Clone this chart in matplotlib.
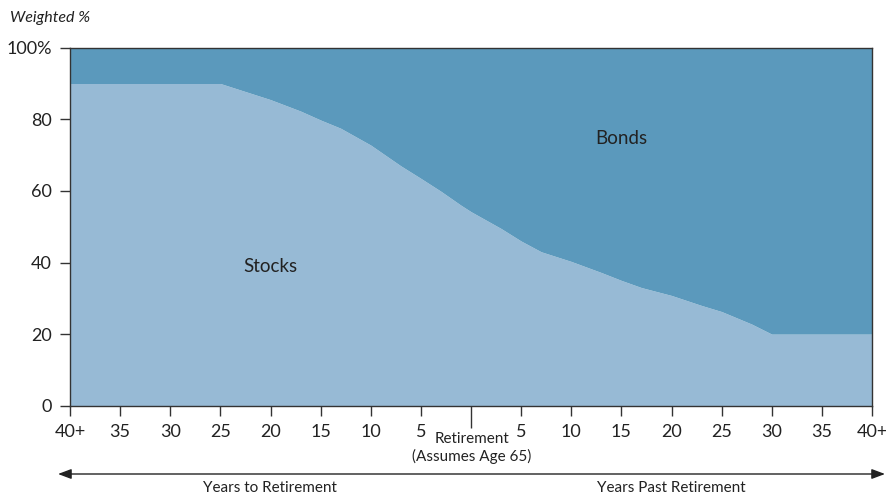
import numpy as np
import matplotlib
matplotlib.use("Agg")
import matplotlib.pyplot as plt

# glide path: years relative to retirement (negative = before), stock weight in %
years = [-40, -25, -22, -20, -17, -15, -13, -10, -7, -5, -3, -1, 0, 3, 5, 7, 10,
         13, 15, 17, 20, 23, 25, 28, 30, 40]
stocks = [90, 90, 87.3, 85.5, 82.3, 79.8, 77.5, 72.8, 67, 63.5, 59.9, 56, 54.2,
          49.5, 46, 43, 40.3, 37.2, 35, 33, 30.8, 28, 26.3, 22.8, 20, 20]
bonds_top = [100] * len(years)

xticks = list(range(-40, 41, 5))
xlabels = ["40+", "35", "30", "25", "20", "15", "10", "5", "",
           "5", "10", "15", "20", "25", "30", "35", "40+"]
yticks = [0, 20, 40, 60, 80, 100]
ylabels = ["0", "20", "40", "60", "80", "100%"]

C_STOCK = "#97BAD5"
C_BOND = "#5B99BC"
C_TXT = "#222222"
C_AX = "#333333"

plt.rcParams.update({"font.family": ["Lato", "DejaVu Sans"], "font.size": 12})

fig = plt.figure(figsize=(8.86, 4.95), dpi=100)
ax = fig.add_axes([70 / 886, 1 - 405.7 / 495, 802 / 886, 358 / 495])

ax.fill_between(years, 0, stocks, color=C_STOCK, lw=0)
ax.fill_between(years, stocks, bonds_top, color=C_BOND, lw=0)
ax.set_xlim(-40, 40)
ax.set_ylim(0, 100)

for s in ax.spines.values():
    s.set_color(C_AX)
    s.set_linewidth(1.0)

ax.set_yticks(yticks)
ax.set_yticklabels(ylabels, color=C_TXT, fontsize=13)
ax.set_xticks(xticks)
ax.set_xticklabels(xlabels, color=C_TXT, fontsize=13)
ax.tick_params(axis="both", length=7, width=1, color=C_AX, pad=6)
# retirement tick is longer than the rest
ax.xaxis.get_major_ticks()[8].tick1line.set_markersize(16)

ax.text(-20, 39, "Stocks", fontsize=13.5, color=C_TXT, ha="center", va="center")
ax.text(15, 74.7, "Bonds", fontsize=13.5, color=C_TXT, ha="center", va="center")

fig.text(10 / 886, 1 - 18 / 495, "Weighted %", style="italic", fontsize=11.5,
         color=C_TXT, ha="left", va="center")
fig.text(472 / 886, 1 - 448 / 495, "Retirement\n(Assumes Age 65)", fontsize=11,
         color=C_TXT, ha="center", va="center", linespacing=1.3)

# direction arrow under the axis
ya = 1 - 474 / 495
fig.add_artist(matplotlib.patches.FancyArrowPatch(
    (58 / 886, ya), (885 / 886, ya), transform=fig.transFigure,
    arrowstyle="<|-|>,head_length=8,head_width=3", color=C_TXT, lw=1.0,
    shrinkA=0, shrinkB=0))
fig.text(270 / 886, 1 - 488 / 495, "Years to Retirement", fontsize=11,
         color=C_TXT, ha="center", va="center")
fig.text(671 / 886, 1 - 488 / 495, "Years Past Retirement", fontsize=11,
         color=C_TXT, ha="center", va="center")

fig.savefig("out.png", dpi=100)
